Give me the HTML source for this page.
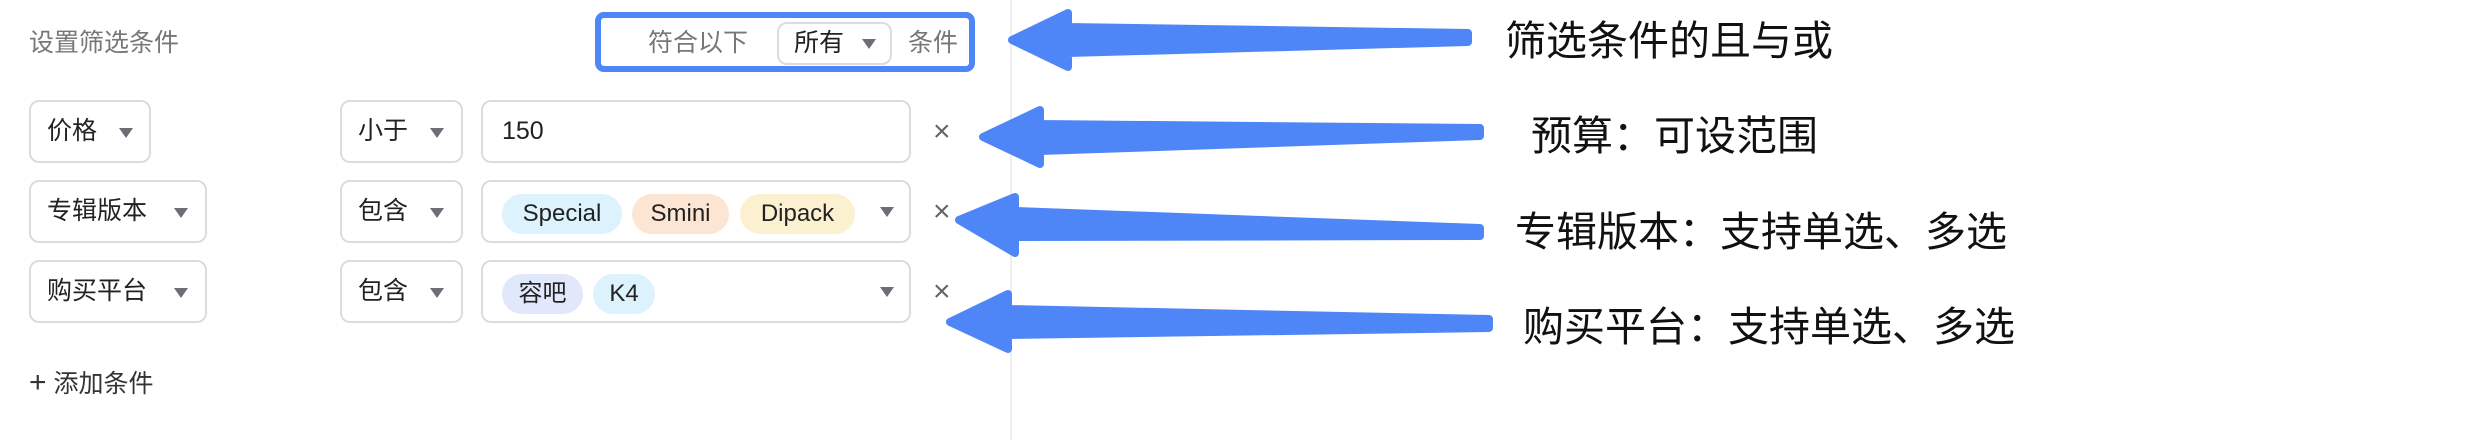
<!DOCTYPE html>
<html><head><meta charset="utf-8"><style>
*{box-sizing:border-box;margin:0;padding:0}
body{width:2490px;height:440px;background:#fff;position:relative;overflow:hidden;font-family:"Liberation Sans","Noto Sans CJK SC",sans-serif;color:#222}
.a{position:absolute}
.box{position:absolute;border:2px solid #dcdcdf;border-radius:10px;background:#fff}
.t{position:absolute;font-size:25px;line-height:25px;white-space:nowrap}
.tri{position:absolute;width:0;height:0;border-left:7px solid transparent;border-right:7px solid transparent;border-top:10px solid #6b6e75}
.tag{position:absolute;height:40px;border-radius:20px;font-size:24px;line-height:40px;text-align:center;color:#222}
.x{position:absolute;font-size:30px;line-height:30px;color:#666}
.lbl{position:absolute;font-size:41px;line-height:41px;color:#111;white-space:nowrap;font-weight:400}
</style></head><body>
<div class="a" style="left:1010px;top:0;width:2px;height:440px;background:#eeeef0"></div>
<div class="t" style="left:29px;top:31px;color:#777">设置筛选条件</div>

<div class="a" style="left:595px;top:12px;width:380px;height:60px;border:6px solid #4f86f7;border-radius:9px"></div>
<div class="t" style="left:648px;top:31px;color:#777">符合以下</div>
<div class="box" style="left:777px;top:22px;width:115px;height:43px"></div>
<div class="t" style="left:794px;top:31px">所有</div>
<div class="tri" style="left:862px;top:39px"></div>
<div class="t" style="left:908px;top:31px;color:#777">条件</div>

<!-- row1 -->
<div class="box" style="left:29px;top:100px;width:122px;height:63px"></div>
<div class="t" style="left:47px;top:119px">价格</div><div class="tri" style="left:119px;top:128px"></div>
<div class="box" style="left:340px;top:100px;width:123px;height:63px"></div>
<div class="t" style="left:358px;top:119px">小于</div><div class="tri" style="left:430px;top:128px"></div>
<div class="box" style="left:481px;top:100px;width:430px;height:63px"></div>
<div class="t" style="left:502px;top:119px">150</div>
<div class="x" style="left:933px;top:117px">×</div>

<!-- row2 -->
<div class="box" style="left:29px;top:180px;width:178px;height:63px"></div>
<div class="t" style="left:47px;top:199px">专辑版本</div><div class="tri" style="left:174px;top:208px"></div>
<div class="box" style="left:340px;top:180px;width:123px;height:63px"></div>
<div class="t" style="left:358px;top:199px">包含</div><div class="tri" style="left:430px;top:208px"></div>
<div class="box" style="left:481px;top:180px;width:430px;height:63px"></div>
<div class="tag" style="left:502px;top:194px;width:120px;background:#dcf2fc">Special</div>
<div class="tag" style="left:632px;top:194px;width:97px;background:#fde5d3">Smini</div>
<div class="tag" style="left:740px;top:194px;width:115px;background:#fbf0d0">Dipack</div>
<div class="tri" style="left:880px;top:207px"></div>
<div class="x" style="left:933px;top:197px">×</div>

<!-- row3 -->
<div class="box" style="left:29px;top:260px;width:178px;height:63px"></div>
<div class="t" style="left:47px;top:279px">购买平台</div><div class="tri" style="left:174px;top:288px"></div>
<div class="box" style="left:340px;top:260px;width:123px;height:63px"></div>
<div class="t" style="left:358px;top:279px">包含</div><div class="tri" style="left:430px;top:288px"></div>
<div class="box" style="left:481px;top:260px;width:430px;height:63px"></div>
<div class="tag" style="left:502px;top:274px;width:81px;background:#e1e8fb">容吧</div>
<div class="tag" style="left:593px;top:274px;width:62px;background:#dcf2fc">K4</div>
<div class="tri" style="left:880px;top:287px"></div>
<div class="x" style="left:933px;top:277px">×</div>

<div class="t" style="left:29px;top:370px;color:#333"><span style="font-size:30px">+</span> 添加条件</div>

<svg class="a" style="left:0;top:0" width="2490" height="440">
<g fill="#4f86f7" stroke="#4f86f7" stroke-width="8" stroke-linejoin="round">
<polygon points="1012,40 1068,13 1068,27 1468,33 1468,42 1068,53 1068,67"/>
<polygon points="983,137 1040,110 1040,124 1480,128 1480,136 1040,151 1040,164"/>
<polygon points="959,220 1015,197 1015,211 1480,228 1480,236 1015,237 1015,253"/>
<polygon points="950,322 1008,294 1008,309 1489,319 1489,328 1008,335 1008,349"/>
</g></svg>

<div class="lbl" style="left:1505px;top:21px">筛选条件的且与或</div>
<div class="lbl" style="left:1531px;top:116px">预算：可设范围</div>
<div class="lbl" style="left:1515px;top:212px">专辑版本：支持单选、多选</div>
<div class="lbl" style="left:1523px;top:307px">购买平台：支持单选、多选</div>
</body></html>
